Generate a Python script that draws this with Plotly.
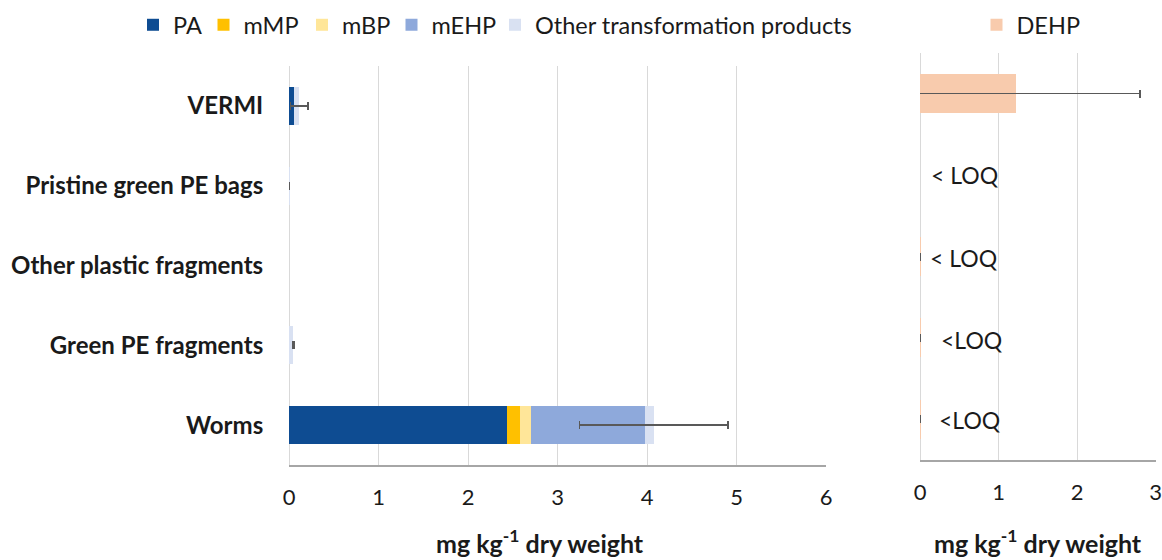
import plotly.graph_objects as go

# ---------------- data ----------------
categories = ["VERMI", "Pristine green PE bags", "Other plastic fragments",
              "Green PE fragments", "Worms"]

pa_vals = [0.06, 0.0, 0.0, 0.0, 2.44]
mmp_vals = [0.0, 0.0, 0.0, 0.0, 0.145]
mbp_vals = [0.0, 0.0, 0.0, 0.0, 0.115]
mehp_vals = [0.0, 0.0, 0.0, 0.0, 1.28]
other_vals = [0.055, 0.004, None, 0.05, 0.095]
total_err = [0.10, 0.002, 0.0, 0.005, 0.83]

dehp_vals = [1.22, None, 0.003, 0.003, 0.003]
dehp_err = [1.58, 0.0, 0.002, 0.002, 0.002]
loq_labels = ["", "< LOQ", "< LOQ", "<LOQ", "<LOQ"]

x1_ticks = [0, 1, 2, 3, 4, 5, 6]
x2_ticks = [0, 1, 2, 3]

# ---------------- styles ----------------
W, H = 1162, 560
FONT = "Lato"
TXT = "#1a1a1a"
colors = {
    "PA": "#0E4C92",
    "mMP": "#FFC000",
    "mBP": "#FFE699",
    "mEHP": "#8EA9DB",
    "Other transformation products": "#D9E1F2",
    "DEHP": "#F8CBAD",
}
ERR = dict(color="#595959", thickness=1.5, width=4)


def px_x(p):
    return p / W


def px_y(p):
    return 1 - p / H


fig = go.Figure()

left_series = [
    ("PA", pa_vals, "legend"),
    ("mMP", mmp_vals, "legend2"),
    ("mBP", mbp_vals, "legend3"),
    ("mEHP", mehp_vals, "legend4"),
    ("Other transformation products", other_vals, "legend5"),
]
for name, vals, lg in left_series:
    kw = {}
    if name == "Other transformation products":
        kw["error_x"] = dict(type="data", array=total_err, visible=True, **ERR)
    fig.add_trace(go.Bar(
        y=categories, x=vals, name=name, orientation="h",
        marker=dict(color=colors[name], line=dict(width=0)),
        xaxis="x", yaxis="y", legend=lg, **kw))

fig.add_trace(go.Bar(
    y=categories, x=dehp_vals, name="DEHP", orientation="h",
    marker=dict(color=colors["DEHP"], line=dict(width=0)),
    error_x=dict(type="data", array=dehp_err, visible=True, **ERR),
    xaxis="x2", yaxis="y2", legend="legend6"))

# LOQ annotations
loq_pos = [None, (929, 175), (928, 258), (939, 340), (937, 420)]
annotations = []
for lab, pos in zip(loq_labels, loq_pos):
    if pos is None or not lab:
        continue
    annotations.append(dict(
        text=lab, x=px_x(pos[0]), y=px_y(pos[1]), xref="paper", yref="paper",
        xanchor="left", yanchor="middle", showarrow=False,
        font=dict(family=FONT, size=23, color=TXT)))

# axis titles
for cx in (540, 1037.5):
    annotations.append(dict(
        text="mg kg<sup>-1</sup> dry weight", x=px_x(cx), y=px_y(541),
        xref="paper", yref="paper", xanchor="center", yanchor="middle",
        showarrow=False, font=dict(family=FONT, size=25, color=TXT, weight="bold")))

xaxis_common = dict(
    showgrid=True, gridcolor="#D9D9D9", gridwidth=1.3,
    zeroline=True, zerolinecolor="#D9D9D9", zerolinewidth=1.3,
    showline=True, linecolor="#A6A6A6", linewidth=2,
    ticks="outside", ticklen=12, tickcolor="rgba(0,0,0,0)",
    tickfont=dict(family=FONT, size=22, color=TXT),
    fixedrange=True, automargin=False,
)


def legend_at(x_px):
    return dict(
        x=px_x(x_px), y=px_y(25), xanchor="left", yanchor="middle",
        orientation="h", bgcolor="rgba(0,0,0,0)", borderwidth=0,
        font=dict(family=FONT, size=23.5, color=TXT), itemwidth=30,
    )


fig.update_layout(
    width=W, height=H,
    margin=dict(l=0, r=0, t=0, b=0, autoexpand=False),
    paper_bgcolor="white", plot_bgcolor="white",
    barmode="stack", bargap=0.52,
    font=dict(family=FONT, color=TXT),
    xaxis=dict(domain=[px_x(289), px_x(826)], range=[0, 6],
               tickvals=x1_ticks, anchor="y", **xaxis_common),
    yaxis=dict(domain=[px_y(465), px_y(66)], anchor="x",
               autorange="reversed", categoryorder="array", categoryarray=categories,
               showgrid=False, zeroline=False, showline=False,
               ticks="outside", ticklen=20, tickcolor="rgba(0,0,0,0)",
               tickfont=dict(family=FONT, size=24, color=TXT, weight="bold"),
               fixedrange=True, automargin=False),
    xaxis2=dict(domain=[px_x(920), px_x(1155.5)], range=[0, 3],
                tickvals=x2_ticks, anchor="y2", **xaxis_common),
    yaxis2=dict(domain=[px_y(460), px_y(53)], anchor="x2",
                autorange="reversed", categoryorder="array", categoryarray=categories,
                showgrid=False, zeroline=False, showline=False,
                showticklabels=False, fixedrange=True, automargin=False),
    legend=legend_at(133),
    legend2=legend_at(203.5),
    legend3=legend_at(302),
    legend4=legend_at(391.5),
    legend5=legend_at(495),
    legend6=legend_at(976.5),
    annotations=annotations,
    showlegend=True,
)

# remove the browser's default body margin so the figure fills the window exactly
fig.write_html(
    "out.html",
    config={"displayModeBar": False},
    post_script="document.body.style.margin='0';document.body.style.overflow='hidden';",
)
